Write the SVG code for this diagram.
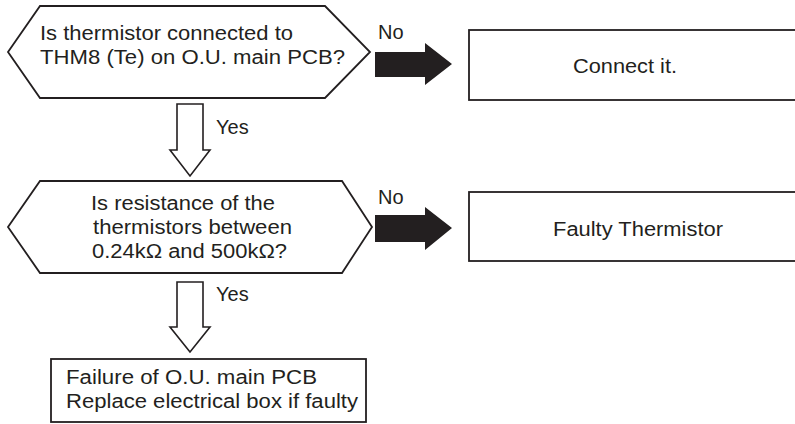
<svg xmlns="http://www.w3.org/2000/svg" width="795" height="424" viewBox="0 0 795 424">
<style>
.shape{fill:#fff;stroke:#231f20;stroke-width:1.8;stroke-linejoin:miter}
.solid{fill:#231f20;stroke:none}
.hollow{fill:#fff;stroke:#231f20;stroke-width:1.6}
text{font-family:"Liberation Sans",Arial,sans-serif;font-size:20px;fill:#231f20}
</style>
<rect width="795" height="424" fill="#fff"/>
<g id="q1">
<polygon class="shape" points="8,52 40,6 325,6 370,52 325,98 40,98"/>
<text x="40" y="40" textLength="253" lengthAdjust="spacingAndGlyphs">Is thermistor connected to</text>
<text x="40" y="63.5" textLength="305" lengthAdjust="spacingAndGlyphs">THM8 (Te) on O.U. main PCB?</text>
</g>
<g id="a1">
<rect class="shape" x="469" y="30" width="340" height="70"/>
<text x="573" y="73" textLength="104" lengthAdjust="spacingAndGlyphs">Connect it.</text>
</g>
<g id="q2">
<polygon class="shape" points="8,227 40,181 342,181 372,227 342,273 40,273"/>
<text x="91" y="210" textLength="184" lengthAdjust="spacingAndGlyphs">Is resistance of the</text>
<text x="93" y="234" textLength="199" lengthAdjust="spacingAndGlyphs">thermistors between</text>
<text x="92" y="258" textLength="195" lengthAdjust="spacingAndGlyphs">0.24kΩ and 500kΩ?</text>
</g>
<g id="a2">
<rect class="shape" x="469" y="192" width="340" height="69"/>
<text x="553" y="236" textLength="170" lengthAdjust="spacingAndGlyphs">Faulty Thermistor</text>
</g>
<g id="a3">
<rect class="shape" x="51" y="359" width="315" height="63"/>
<text x="66" y="384" textLength="251" lengthAdjust="spacingAndGlyphs">Failure of O.U. main PCB</text>
<text x="66" y="408" textLength="292" lengthAdjust="spacingAndGlyphs">Replace electrical box if faulty</text>
</g>
<g id="connectors">
<polygon class="solid" points="375,52 425,52 425,43 452,64 425,85 425,77 375,77"/>
<text x="378" y="39">No</text>
<polygon class="solid" points="375,215 425,215 425,207 452,228 425,250 425,242 375,242"/>
<text x="378" y="204">No</text>
<polygon class="hollow" points="177,104 203,104 203,150 210,150 190,176 170,150 177,150"/>
<text x="216" y="134">Yes</text>
<polygon class="hollow" points="177,282 203,282 203,327 210,327 190,352 170,327 177,327"/>
<text x="216" y="301">Yes</text>
</g>
</svg>
